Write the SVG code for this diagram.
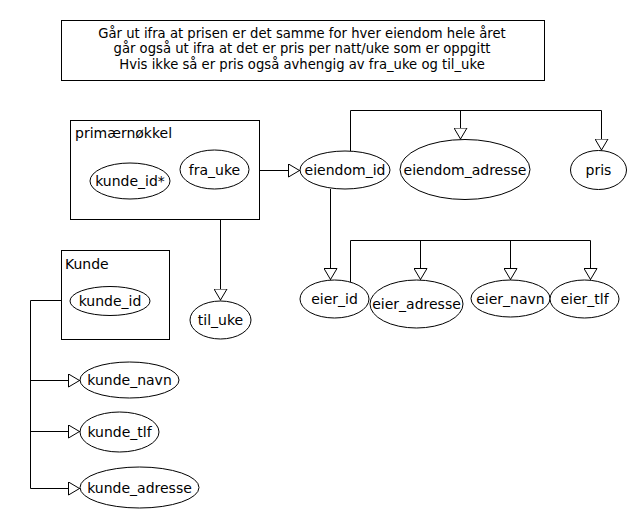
<svg xmlns="http://www.w3.org/2000/svg" width="640" height="530" viewBox="0 0 640 530">
<defs>
<marker id="arr" viewBox="0 0 12 14" refX="12" refY="7" markerWidth="12" markerHeight="14" markerUnits="userSpaceOnUse" orient="auto">
<path d="M0.5,0.5 L11.5,7 L0.5,13.5 Z" fill="#fff" stroke="#000" stroke-width="1"/>
</marker>
<style>
text{font-family:"DejaVu Sans",sans-serif;font-size:14px;fill:#000}
.n{font-size:13.2px}
.c{text-anchor:middle}
.s{fill:#fff;stroke:#000;stroke-width:1}
.l{fill:none;stroke:#000;stroke-width:1}
.a{marker-end:url(#arr)}
</style>
</defs>
<rect width="640" height="530" fill="#fff"/>
<g id="note">
<rect class="s" x="61.5" y="20.5" width="483" height="60"/>
<text class="c n" x="302" y="37.5">Går ut ifra at prisen er det samme for hver eiendom hele året</text>
<text class="c n" x="302" y="53">går også ut ifra at det er pris per natt/uke som er oppgitt</text>
<text class="c n" x="302" y="68.5">Hvis ikke så er pris også avhengig av fra_uke og til_uke</text>
</g>
<g id="connectors">
<path class="l a" d="M259.5,170.5 H300"/>
<path class="l" d="M350.5,151 V110.5 H601.5 V138"/>
<path class="l a" d="M601.5,130 V150.5"/>
<path class="l a" d="M460.5,110.5 V139.5"/>
<path class="l a" d="M330.5,189 V280"/>
<path class="l a" d="M220.5,219 V300.5"/>
<path class="l" d="M350.5,282 V240.5 H590.5"/>
<path class="l a" d="M420.5,240.5 V280"/>
<path class="l a" d="M510.5,240.5 V280"/>
<path class="l a" d="M590.5,240.5 V280"/>
<path class="l" d="M61,300.5 H30.5 V488.5"/>
<path class="l a" d="M30.5,380.5 H80"/>
<path class="l a" d="M30.5,431.5 H80"/>
<path class="l a" d="M30.5,488.5 H80"/>
</g>
<g id="primaernokkel">
<rect class="s" x="70.5" y="120.5" width="189" height="99"/>
<text x="75" y="138">primærnøkkel</text>
</g>
<g id="kunde_id_star">
<ellipse class="s" cx="130" cy="181" rx="40" ry="18"/>
<text class="c" x="130" y="186">kunde_id*</text>
</g>
<g id="fra_uke">
<ellipse class="s" cx="214.5" cy="169.5" rx="34.5" ry="19.5"/>
<text class="c" x="214.5" y="174.5">fra_uke</text>
</g>
<g id="eiendom_id">
<ellipse class="s" cx="345" cy="170" rx="45" ry="19"/>
<text class="c" x="345" y="175">eiendom_id</text>
</g>
<g id="eiendom_adresse">
<ellipse class="s" cx="465" cy="169.5" rx="65" ry="30"/>
<text class="c" x="465" y="174.5">eiendom_adresse</text>
</g>
<g id="pris">
<ellipse class="s" cx="598.5" cy="170" rx="28" ry="19.5"/>
<text class="c" x="598.5" y="175">pris</text>
</g>
<g id="til_uke">
<ellipse class="s" cx="220.5" cy="320" rx="30.5" ry="19"/>
<text class="c" x="220.5" y="325">til_uke</text>
</g>
<g id="eier_id">
<ellipse class="s" cx="334.5" cy="299" rx="34.5" ry="19"/>
<text class="c" x="334.5" y="304">eier_id</text>
</g>
<g id="eier_adresse">
<ellipse class="s" cx="416.5" cy="304" rx="46.5" ry="24"/>
<text class="c" x="416.5" y="309">eier_adresse</text>
</g>
<g id="eier_navn">
<ellipse class="s" cx="510.5" cy="298.5" rx="39.5" ry="18.5"/>
<text class="c" x="510.5" y="303.5">eier_navn</text>
</g>
<g id="eier_tlf">
<ellipse class="s" cx="584.5" cy="299" rx="34.5" ry="19"/>
<text class="c" x="584.5" y="304">eier_tlf</text>
</g>
<g id="kunde">
<rect class="s" x="61.5" y="250.5" width="108" height="89"/>
<text x="65" y="269">Kunde</text>
</g>
<g id="kunde_id">
<ellipse class="s" cx="110" cy="301" rx="40" ry="14.5"/>
<text class="c" x="110" y="306">kunde_id</text>
</g>
<g id="kunde_navn">
<ellipse class="s" cx="129.5" cy="380" rx="49.5" ry="18"/>
<text class="c" x="129.5" y="385">kunde_navn</text>
</g>
<g id="kunde_tlf">
<ellipse class="s" cx="119.5" cy="432" rx="39.5" ry="20"/>
<text class="c" x="119.5" y="437">kunde_tlf</text>
</g>
<g id="kunde_adresse">
<ellipse class="s" cx="139.5" cy="487.5" rx="59.5" ry="20.5"/>
<text class="c" x="139.5" y="492.5">kunde_adresse</text>
</g>
</svg>
